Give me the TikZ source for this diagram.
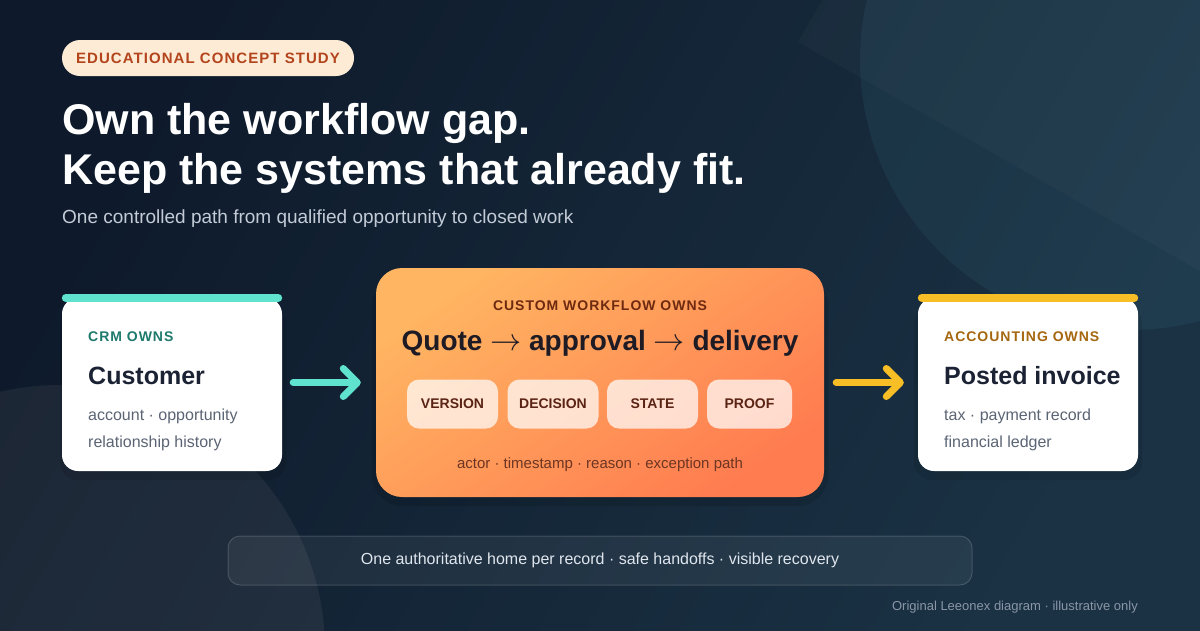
\documentclass[tikz,border=0pt]{standalone}
\usepackage{fontspec}
\setmainfont{Liberation Sans}
\newfontfamily\trk{Liberation Sans}[LetterSpace=7]
\usetikzlibrary{arrows.meta}
\newcommand\fsz[1]{\fontsize{#1}{#1}\selectfont}
\newcommand\thinarrow{ \scalebox{1.25}{$\rightarrow$} }
\definecolor{bgA}{HTML}{0E1A2B}
\definecolor{bgB}{HTML}{1A3244}
\definecolor{pillBg}{HTML}{FDEBD6}
\definecolor{pillTx}{HTML}{B3441C}
\definecolor{subTx}{HTML}{C3CBD6}
\definecolor{cardTx}{HTML}{1B2233}
\definecolor{cardGray}{HTML}{5B6474}
\definecolor{tealC}{HTML}{5FE3CF}
\definecolor{tealTx}{HTML}{1D7A6C}
\definecolor{yelC}{HTML}{F7BF25}
\definecolor{yelTx}{HTML}{A5670F}
\definecolor{orA}{HTML}{FFB562}
\definecolor{orB}{HTML}{FF7C50}
\definecolor{wfTx}{HTML}{6E2A10}
\definecolor{wfTitle}{HTML}{1E1B24}
\definecolor{chipTx}{HTML}{5A2314}
\definecolor{wfFoot}{HTML}{6D3522}
\definecolor{noteTx}{HTML}{E0E6EE}
\definecolor{footTx}{HTML}{8A96A6}
\definecolor{glowC}{HTML}{5FB8C8}
\definecolor{warmC}{HTML}{C8B8B0}
\tikzset{
  card/.style={fill=white, rounded corners=16pt, minimum width=220pt, minimum height=173pt, inner sep=0pt},
  cardshadow/.style={fill=black, opacity=0.10, rounded corners=18pt},
  lbl/.style={anchor=base west, inner sep=0pt, font=\trk\bfseries\fsz{14}},
  head/.style={anchor=base west, inner sep=0pt, font=\bfseries\fsz{25}, text=cardTx},
  body/.style={anchor=base west, inner sep=0pt, font=\fsz{16}, text=cardGray},
  chip/.style={fill=white, fill opacity=0.72, text opacity=1, rounded corners=12pt, minimum width=91pt, minimum height=49pt, inner sep=0pt, font=\bfseries\fsz{14}, text=chipTx},
  topbar/.style={line width=8pt, line cap=round},
  flowarrow/.style={line width=7pt, line cap=round, -{Straight Barb[round, length=14pt, width=28pt]}},
}
\begin{document}
\begin{tikzpicture}[x=1pt, y=-1pt]
\useasboundingbox (0,0) rectangle (1200,630);
% background
\fill[left color=bgA, right color=bgB, shading angle=60] (0,0) rectangle (1200,630);
\begin{scope}
\clip (0,0) rectangle (1200,630);
\fill[glowC, opacity=0.08] (1130,60) circle (270);
\fill[white, opacity=0.025] (798,42) -- (1298,327) -- (1560,-133) -- (1060,-418) -- cycle;
\fill[warmC, opacity=0.08] (60,650) circle (265);
\end{scope}
% pill + titles
\node[fill=pillBg, rounded corners=18pt, minimum width=292pt, minimum height=36pt, inner sep=0pt] (pill) at (208,58) {};
\node[anchor=base, inner sep=0pt, font=\trk\bfseries\fsz{15}, text=pillTx] (pilltxt) at (208,63.5) {EDUCATIONAL CONCEPT STUDY};
\node[anchor=base west, inner sep=0pt, font=\bfseries\fsz{43}, text=white] (t1) at (62,134) {Own the workflow gap.};
\node[anchor=base west, inner sep=0pt, font=\bfseries\fsz{43}, text=white] (t2) at (62,184) {Keep the systems that already fit.};
\node[anchor=base west, inner sep=0pt, font=\fsz{19}, text=subTx] (sub) at (62,223) {One controlled path from qualified opportunity to closed work};
% shadows
\fill[cardshadow] (60,306) rectangle (286,480);
\fill[cardshadow] (914,306) rectangle (1142,480);
\fill[black, opacity=0.12, rounded corners=30pt] (372,276) rectangle (828,506);
% left card
\node[card] (crm) at (172,384.5) {};
\draw[topbar, tealC] ([xshift=4pt]crm.north west) -- ([xshift=-4pt]crm.north east);
\node[lbl, text=tealTx] (crmlbl) at (88,341) {CRM OWNS};
\node[head] (crmhead) at (88,384) {Customer};
\node[body] (crmb1) at (88,420) {account · opportunity};
\node[body] (crmb2) at (88,447) {relationship history};
% middle box
\node[rounded corners=26pt, top color=orA, bottom color=orB, shading angle=35, minimum width=448pt, minimum height=229pt, inner sep=0pt] (wf) at (600,382.5) {};
\node[anchor=base, inner sep=0pt, font=\trk\bfseries\fsz{14}, text=wfTx] (wflbl) at (600,310) {CUSTOM WORKFLOW OWNS};
\node[anchor=base, inner sep=0pt, font=\bfseries\fsz{28}, text=wfTitle] (wfhead) at (600,350) {Quote\thinarrow approval\thinarrow delivery};
\node[chip] (cv) at (452.5,404) {VERSION};
\node[chip] (cd) at (553,404) {DECISION};
\node[chip] (cs) at (652.5,404) {STATE};
\node[chip, minimum width=85pt] (cp) at (749.5,404) {PROOF};
\node[anchor=base, inner sep=0pt, font=\fsz{15}, text=wfFoot] (wffoot) at (600,468) {actor · timestamp · reason · exception path};
% right card
\node[card] (acc) at (1028,384.5) {};
\draw[topbar, yelC] ([xshift=4pt]acc.north west) -- ([xshift=-4pt]acc.north east);
\node[lbl, text=yelTx] (acclbl) at (944,341) {ACCOUNTING OWNS};
\node[head] (acchead) at (944,384) {Posted invoice};
\node[body] (accb1) at (944,420) {tax · payment record};
\node[body] (accb2) at (944,447) {financial ledger};
% arrows
\draw[flowarrow, tealC, shorten <=11pt, shorten >=15pt] (crm.east |- wf.west) -- (wf.west);
\draw[flowarrow, yelC, shorten <=12pt, shorten >=14pt] (wf.east) -- (acc.west |- wf.east);
% note bar
\node[fill=white, fill opacity=0.06, draw=white, draw opacity=0.16, line width=1pt, text opacity=1, rounded corners=12pt, minimum width=744pt, minimum height=49pt, inner sep=0pt, font=\fsz{16}, text=noteTx] (note) at (600,560.5) {One authoritative home per record · safe handoffs · visible recovery};
\node[anchor=base east, inner sep=0pt, font=\fsz{13}, text=footTx] (foot) at (1138,610) {Original Leeonex diagram · illustrative only};
\end{tikzpicture}
\end{document}
